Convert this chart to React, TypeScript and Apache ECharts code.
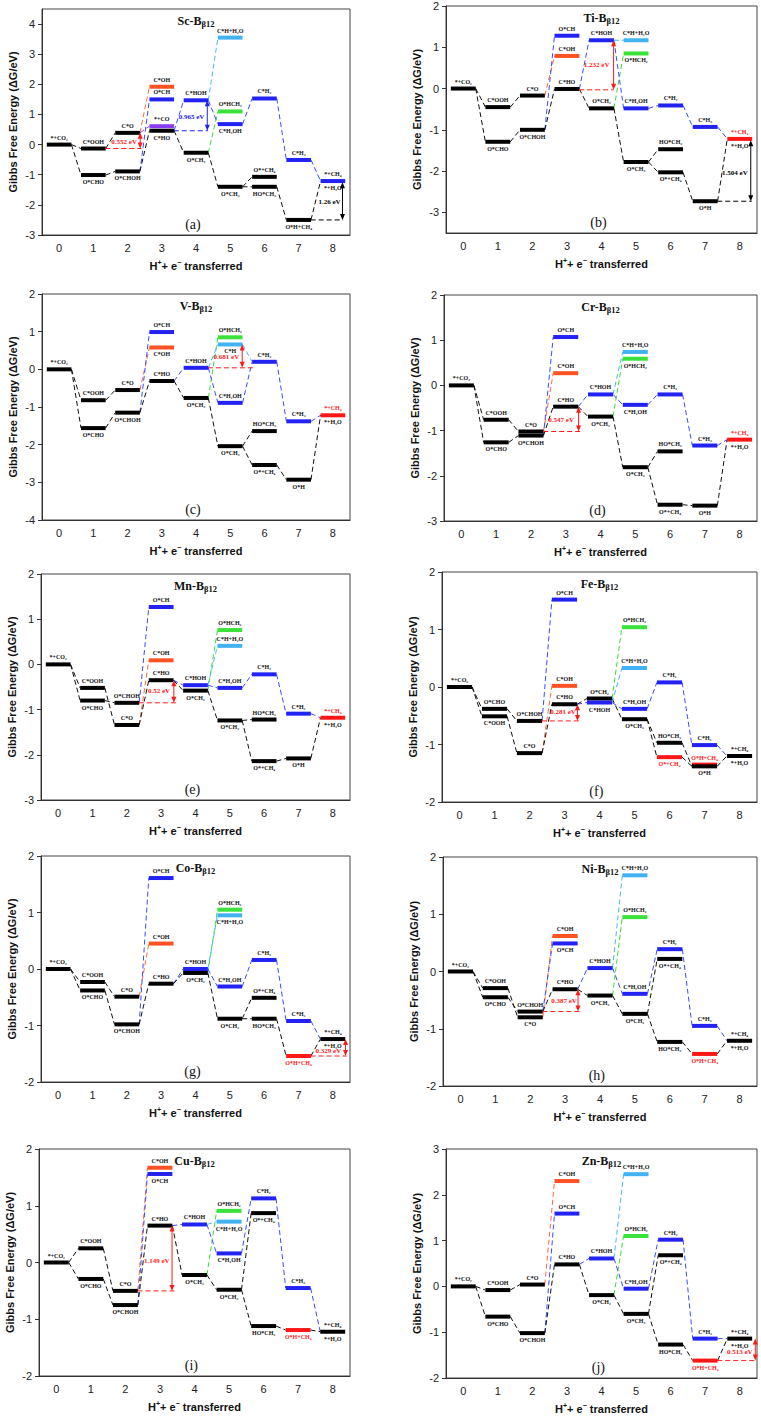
import React, { useEffect, useRef } from "react";
import * as echarts from "echarts";

type Level = [number, number, string, string, string, string?];
type Link = [string, string, string];
type Note = { c: string; ref: number[]; arrow: number[]; text: string; at: number[] };

const STEPS = ["0", "1", "2", "3", "4", "5", "6", "7", "8"];

// ---------- Sc ----------
const SC_Y = [-3, 4.5];
const SC_LEVELS: Level[] = [
  [0, 0, "k", "*+CO₂", "t"],
  [1, -0.13, "k", "C*OOH", "t"],
  [1, -1.01, "k", "O*CHO", "b"],
  [2, 0.39, "k", "C*O", "t"],
  [2, -0.89, "k", "O*CHOH", "b"],
  [3, 1.92, "o", "C*OH", "t"],
  [3, 1.5, "b", "O*CH", "t"],
  [3, 0.61, "p", "*+CO", "t"],
  [3, 0.46, "k", "C*HO", "b"],
  [4, 1.47, "b", "C*HOH", "t"],
  [4, -0.27, "k", "O*CH₂", "b"],
  [5, 3.55, "c", "C*H+H₂O", "t"],
  [5, 1.1, "g", "O*HCH₂", "t"],
  [5, 0.68, "b", "C*H₂OH", "b"],
  [5, -1.4, "k", "O*CH₃", "b"],
  [6, 1.53, "b", "C*H₂", "t"],
  [6, -1.07, "k", "O*+CH₄", "t"],
  [6, -1.4, "k", "HO*CH₃", "b"],
  [7, -0.51, "b", "C*H₃", "t"],
  [7, -2.5, "k", "O*H+CH₄", "b"],
  [8, -1.21, "b", "*+CH₄", "t", "*+H₂O"],
];
const SC_NOTES: Note[] = [
  { c: "r", ref: [1.35, 2.4, -0.13], arrow: [2.37, 0.39, -0.13], text: "0.552 eV", at: [1.9, 0.1] },
  { c: "b", ref: [3.35, 4.35, 0.46], arrow: [4.33, 1.47, 0.46], text: "0.965 eV", at: [3.87, 0.92] },
  { c: "k", ref: [7.35, 8.3, -2.5], arrow: [8.28, -1.25, -2.5], text: "1.26 eV", at: [7.9, -1.92] },
];

// ---------- Ti ----------
const TI_Y = [-3.5, 2];
const TI_LEVELS: Level[] = [
  [0, 0, "k", "*+CO₂", "t"],
  [1, -0.45, "k", "C*OOH", "t"],
  [1, -1.29, "k", "O*CHO", "b"],
  [2, -0.17, "k", "C*O", "t"],
  [2, -1.0, "k", "O*CHOH", "b"],
  [3, 1.28, "b", "O*CH", "t"],
  [3, 0.79, "o", "C*OH", "t"],
  [3, -0.01, "k", "C*HO", "t"],
  [4, 1.17, "b", "C*HOH", "t"],
  [4, -0.48, "k", "O*CH₂", "t"],
  [5, 1.17, "c", "C*H+H₂O", "t"],
  [5, 0.85, "g", "O*HCH₂", "b"],
  [5, -0.48, "b", "C*H₂OH", "t"],
  [5, -1.78, "k", "O*CH₃", "b"],
  [6, -0.41, "b", "C*H₂", "t"],
  [6, -1.47, "k", "HO*CH₃", "t"],
  [6, -2.03, "k", "O*+CH₄", "b"],
  [7, -0.93, "b", "C*H₃", "t"],
  [7, -2.73, "k", "O*H", "b"],
  [8, -1.22, "r", "*+CH₄", "t", "*+H₂O"],
];
const TI_NOTES: Note[] = [
  { c: "r", ref: [3.35, 4.35, -0.03], arrow: [4.35, 1.17, -0.03], text: "1.232 eV", at: [3.86, 0.57] },
  { c: "k", ref: [7.35, 8.35, -2.73], arrow: [8.32, -1.25, -2.73], text: "1.504 eV", at: [7.86, -2.04] },
];

// ---------- V ----------
const V_Y = [-4, 2];
const V_LEVELS: Level[] = [
  [0, 0, "k", "*+CO₂", "t"],
  [1, -0.82, "k", "C*OOH", "t"],
  [1, -1.56, "k", "O*CHO", "b"],
  [2, -0.55, "k", "C*O", "t"],
  [2, -1.15, "k", "O*CHOH", "b"],
  [3, 0.99, "b", "O*CH", "t"],
  [3, 0.58, "o", "C*OH", "b"],
  [3, -0.31, "k", "C*HO", "t"],
  [4, 0.04, "b", "C*HOH", "t"],
  [4, -0.76, "k", "O*CH₂", "b"],
  [5, 0.85, "g", "O*HCH₂", "t"],
  [5, 0.66, "c", "C*H", "b"],
  [5, -0.89, "b", "C*H₂OH", "t"],
  [5, -2.04, "k", "O*CH₃", "b"],
  [6, 0.2, "b", "C*H₂", "t"],
  [6, -1.64, "k", "HO*CH₃", "t"],
  [6, -2.54, "k", "O*+CH₄", "b"],
  [7, -1.38, "b", "C*H₃", "t"],
  [7, -2.93, "k", "O*H", "b"],
  [8, -1.22, "r", "*+CH₄", "t", "*+H₂O"],
];
const V_NOTES: Note[] = [
  { c: "r", ref: [4.35, 5.7, 0.04], arrow: [5.35, 0.66, 0.04], text: "0.681 eV", at: [4.89, 0.33] },
];

// ---------- Cr ----------
const CR_Y = [-3, 2];
const CR_LEVELS: Level[] = [
  [0, 0, "k", "*+CO₂", "t"],
  [1, -0.76, "k", "C*OOH", "t"],
  [1, -1.26, "k", "O*CHO", "b"],
  [2, -1.02, "k", "C*O", "t"],
  [2, -1.11, "k", "O*CHOH", "b"],
  [3, 1.07, "b", "O*CH", "t"],
  [3, 0.27, "o", "C*OH", "t"],
  [3, -0.47, "k", "C*HO", "t"],
  [4, -0.2, "b", "C*HOH", "t"],
  [4, -0.69, "k", "O*CH₂", "b"],
  [5, 0.74, "c", "C*H+H₂O", "t"],
  [5, 0.59, "g", "O*HCH₂", "b"],
  [5, -0.43, "b", "C*H₂OH", "b"],
  [5, -1.81, "k", "O*CH₃", "b"],
  [6, -0.2, "b", "C*H₂", "t"],
  [6, -1.46, "k", "HO*CH₃", "t"],
  [6, -2.64, "k", "O*+CH₄", "b"],
  [7, -1.33, "b", "C*H₃", "t"],
  [7, -2.66, "k", "O*H", "b"],
  [8, -1.2, "r", "*+CH₄", "t", "*+H₂O"],
];
const CR_NOTES: Note[] = [
  { c: "r", ref: [2.35, 3.45, -1.02], arrow: [3.37, -0.47, -1.02], text: "0.547 eV", at: [2.87, -0.76] },
];

// ---------- Mn ----------
const MN_Y = [-3, 2];
const MN_LEVELS: Level[] = [
  [0, 0, "k", "*+CO₂", "t"],
  [1, -0.52, "k", "C*OOH", "t"],
  [1, -0.8, "k", "O*CHO", "b"],
  [2, -0.85, "k", "O*CHOH", "t"],
  [2, -1.34, "k", "C*O", "t"],
  [3, 1.27, "b", "O*CH", "t"],
  [3, 0.09, "o", "C*OH", "t"],
  [3, -0.35, "k", "C*HO", "t"],
  [4, -0.46, "b", "C*HOH", "t"],
  [4, -0.58, "k", "O*CH₂", "b"],
  [5, 0.76, "g", "O*HCH₂", "t"],
  [5, 0.41, "c", "C*H+H₂O", "t"],
  [5, -0.52, "b", "C*H₂OH", "t"],
  [5, -1.24, "k", "O*CH₃", "b"],
  [6, -0.22, "b", "C*H₂", "t"],
  [6, -1.22, "k", "HO*CH₃", "t"],
  [6, -2.14, "k", "O*+CH₄", "b"],
  [7, -1.09, "b", "C*H₃", "t"],
  [7, -2.08, "k", "O*H", "b"],
  [8, -1.18, "r", "*+CH₄", "t", "*+H₂O"],
];
const MN_NOTES: Note[] = [
  { c: "r", ref: [2.35, 3.45, -0.85], arrow: [3.37, -0.35, -0.85], text: "0.52 eV", at: [2.94, -0.59] },
];

// ---------- Fe ----------
const FE_Y = [-2, 2];
const FE_LEVELS: Level[] = [
  [0, 0, "k", "*+CO₂", "t"],
  [1, -0.38, "k", "O*CHO", "t"],
  [1, -0.51, "k", "C*OOH", "b"],
  [2, -0.59, "k", "O*CHOH", "t"],
  [2, -1.15, "k", "C*O", "t"],
  [3, 1.52, "b", "O*CH", "t"],
  [3, 0.02, "o", "C*OH", "t"],
  [3, -0.3, "k", "C*HO", "t"],
  [4, -0.2, "k", "O*CH₂", "t"],
  [4, -0.27, "b", "C*HOH", "b"],
  [5, 1.04, "g", "O*HCH₂", "t"],
  [5, 0.33, "c", "C*H+H₂O", "t"],
  [5, -0.38, "b", "C*H₂OH", "t"],
  [5, -0.56, "k", "O*CH₃", "b"],
  [6, 0.08, "b", "C*H₂", "t"],
  [6, -0.97, "k", "HO*CH₃", "t"],
  [6, -1.22, "r", "O*+CH₄", "b"],
  [7, -1.01, "b", "C*H₃", "t"],
  [7, -1.35, "r", "O*H+CH₄", "t"],
  [7, -1.38, "k", "O*H", "b"],
  [8, -1.2, "k", "*+CH₄", "t", "*+H₂O"],
];
const FE_NOTES: Note[] = [
  { c: "r", ref: [2.35, 3.45, -0.59], arrow: [3.37, -0.3, -0.59], text: "0.281 eV", at: [2.96, -0.43] },
];

// ---------- Co ----------
const CO_Y = [-2, 2];
const CO_LEVELS: Level[] = [
  [0, 0, "k", "*+CO₂", "t"],
  [1, -0.23, "k", "C*OOH", "t"],
  [1, -0.38, "k", "O*CHO", "b"],
  [2, -0.49, "k", "C*O", "t"],
  [2, -0.98, "k", "O*CHOH", "b"],
  [3, 1.61, "b", "O*CH", "t"],
  [3, 0.45, "o", "C*OH", "t"],
  [3, -0.26, "k", "C*HO", "t"],
  [4, 0.0, "b", "C*HOH", "t"],
  [4, -0.07, "k", "O*CH₂", "b"],
  [5, 1.05, "g", "O*HCH₂", "t"],
  [5, 0.95, "c", "C*H+H₂O", "b"],
  [5, -0.31, "b", "C*H₂OH", "t"],
  [5, -0.88, "k", "O*CH₃", "b"],
  [6, 0.16, "b", "C*H₂", "t"],
  [6, -0.51, "k", "O*+CH₄", "t"],
  [6, -0.88, "k", "HO*CH₃", "b"],
  [7, -0.92, "b", "C*H₃", "t"],
  [7, -1.54, "r", "O*H+CH₄", "b"],
  [8, -1.24, "k", "*+CH₄", "t", "*+H₂O"],
];
const CO_NOTES: Note[] = [
  { c: "r", ref: [7.35, 8.4, -1.54], arrow: [8.37, -1.24, -1.54], text: "0.329 eV", at: [7.87, -1.45] },
];

// ---------- Ni ----------
const NI_Y = [-2, 2];
const NI_LEVELS: Level[] = [
  [0, 0, "k", "*+CO₂", "t"],
  [1, -0.29, "k", "C*OOH", "t"],
  [1, -0.45, "k", "O*CHO", "b"],
  [2, -0.7, "k", "O*CHOH", "t"],
  [2, -0.8, "k", "C*O", "b"],
  [3, 0.62, "o", "C*OH", "t"],
  [3, 0.49, "b", "O*CH", "b"],
  [3, -0.31, "k", "C*HO", "t"],
  [4, 0.06, "b", "C*HOH", "t"],
  [4, -0.42, "k", "O*CH₂", "b"],
  [5, 1.68, "c", "C*H+H₂O", "t"],
  [5, 0.95, "g", "O*HCH₂", "t"],
  [5, -0.39, "b", "C*H₂OH", "t"],
  [5, -0.74, "k", "O*CH₃", "b"],
  [6, 0.39, "b", "C*H₂", "t"],
  [6, 0.22, "k", "O*+CH₄", "b"],
  [6, -1.23, "k", "HO*CH₃", "b"],
  [7, -0.95, "b", "C*H₃", "t"],
  [7, -1.44, "r", "O*H+CH₄", "b"],
  [8, -1.21, "k", "*+CH₄", "t", "*+H₂O"],
];
const NI_NOTES: Note[] = [
  { c: "r", ref: [2.35, 3.45, -0.7], arrow: [3.37, -0.31, -0.7], text: "0.387 eV", at: [2.97, -0.52] },
];

// ---------- Cu ----------
const CU_Y = [-2, 2];
const CU_LEVELS: Level[] = [
  [0, 0, "k", "*+CO₂", "t"],
  [1, 0.25, "k", "C*OOH", "t"],
  [1, -0.29, "k", "O*CHO", "b"],
  [2, -0.5, "k", "C*O", "t"],
  [2, -0.75, "k", "O*CHOH", "b"],
  [3, 1.67, "o", "C*OH", "t"],
  [3, 1.56, "b", "O*CH", "b"],
  [3, 0.65, "k", "C*HO", "t"],
  [4, 0.67, "b", "C*HOH", "t"],
  [4, -0.22, "k", "O*CH₂", "b"],
  [5, 0.91, "g", "O*HCH₂", "t"],
  [5, 0.72, "c", "C*H+H₂O", "b"],
  [5, 0.16, "b", "C*H₂OH", "b"],
  [5, -0.48, "k", "O*CH₃", "b"],
  [6, 1.13, "b", "C*H₂", "t"],
  [6, 0.87, "k", "O*+CH₄", "b"],
  [6, -1.12, "k", "HO*CH₃", "b"],
  [7, -0.45, "b", "C*H₃", "t"],
  [7, -1.19, "r", "O*H+CH₄", "b"],
  [8, -1.22, "k", "*+CH₄", "t", "*+H₂O"],
];
const CU_NOTES: Note[] = [
  { c: "r", ref: [2.35, 3.5, -0.5], arrow: [3.35, 0.65, -0.5], text: "1.149 eV", at: [2.91, 0.03] },
];

// ---------- Zn ----------
const ZN_Y = [-2, 3];
const ZN_LEVELS: Level[] = [
  [0, 0, "k", "*+CO₂", "t"],
  [1, -0.08, "k", "C*OOH", "t"],
  [1, -0.66, "k", "O*CHO", "b"],
  [2, 0.04, "k", "C*O", "t"],
  [2, -1.02, "k", "O*CHOH", "b"],
  [3, 2.3, "o", "C*OH", "t"],
  [3, 1.59, "b", "O*CH", "t"],
  [3, 0.48, "k", "C*HO", "t"],
  [4, 0.61, "b", "C*HOH", "t"],
  [4, -0.19, "k", "O*CH₂", "b"],
  [5, 2.45, "c", "C*H+H₂O", "t"],
  [5, 1.1, "g", "O*HCH₂", "t"],
  [5, -0.05, "b", "C*H₂OH", "t"],
  [5, -0.6, "k", "O*CH₃", "b"],
  [6, 1.02, "b", "C*H₂", "t"],
  [6, 0.68, "k", "O*+CH₄", "b"],
  [6, -1.27, "k", "HO*CH₃", "b"],
  [7, -1.14, "b", "C*H₃", "t"],
  [7, -1.62, "r", "O*H+CH₄", "b"],
  [8, -1.14, "k", "*+CH₄", "t", "*+H₂O"],
];
const ZN_NOTES: Note[] = [
  { c: "r", ref: [7.35, 8.5, -1.62], arrow: [8.45, -1.14, -1.62], text: "0.513 eV", at: [8.0, -1.43] },
];

// ---------- pathway connections ----------
const ENTRY_LINKS: Link[] = [
  ["*+CO₂", "C*OOH", "k"], ["*+CO₂", "O*CHO", "k"],
  ["C*OOH", "C*O", "k"], ["O*CHO", "O*CHOH", "k"],
  ["C*O", "C*OH", "o"], ["O*CHOH", "O*CH", "b"],
];
const MIDDLE_LINKS: Link[] = [
  ["C*HO", "C*HOH", "b"], ["C*HO", "O*CH₂", "k"],
  ["O*CH₂", "O*HCH₂", "g"], ["C*HOH", "C*H₂OH", "b"], ["O*CH₂", "O*CH₃", "k"],
  ["C*H₂OH", "C*H₂", "b"], ["O*CH₃", "O*+CH₄", "k"], ["O*CH₃", "HO*CH₃", "k"],
  ["C*H₂", "C*H₃", "b"], ["C*H₃", "*+CH₄", "b"],
];
const CYAN_LINK: Link[] = [["C*HOH", "C*H+H₂O", "c"]];
const TAIL_OH: Link[] = [["O*+CH₄", "O*H", "k"], ["O*H", "*+CH₄", "k"]];
const TAIL_OHCH4: Link[] = [["HO*CH₃", "O*H+CH₄", "k"], ["O*H+CH₄", "*+CH₄", "k"]];

const SC_LINKS: Link[] = [...ENTRY_LINKS, ["C*O", "*+CO", "p"], ["O*CHOH", "C*HO", "k"], ...MIDDLE_LINKS, ...CYAN_LINK, ...TAIL_OHCH4];
const TI_LINKS: Link[] = [...ENTRY_LINKS, ["O*CHOH", "C*HO", "k"], ...MIDDLE_LINKS, ...CYAN_LINK, ...TAIL_OH];
const V_LINKS: Link[] = [...ENTRY_LINKS, ["O*CHOH", "C*HO", "k"], ...MIDDLE_LINKS, ["C*HOH", "C*H", "c"], ["C*H", "C*H₂", "c"], ...TAIL_OH];
const CR_LINKS: Link[] = [...ENTRY_LINKS, ["O*CHOH", "C*HO", "k"], ...MIDDLE_LINKS, ...CYAN_LINK, ...TAIL_OH];
const MN_LINKS: Link[] = [...ENTRY_LINKS, ["C*O", "C*HO", "k"], ...MIDDLE_LINKS, ...CYAN_LINK, ...TAIL_OH];
const FE_LINKS: Link[] = [...ENTRY_LINKS, ["C*O", "C*HO", "k"], ...MIDDLE_LINKS, ...CYAN_LINK,
  ["HO*CH₃", "O*H", "k"], ["O*+CH₄", "O*H", "k"], ["O*H", "*+CH₄", "k"]];
const CO_LINKS: Link[] = [...ENTRY_LINKS, ["O*CHOH", "C*HO", "k"], ...MIDDLE_LINKS, ...CYAN_LINK, ...TAIL_OHCH4];
const NI_LINKS: Link[] = [...ENTRY_LINKS, ["O*CHOH", "C*HO", "k"], ...MIDDLE_LINKS, ...CYAN_LINK, ...TAIL_OHCH4];
const CU_LINKS: Link[] = [...ENTRY_LINKS, ["O*CHOH", "C*HO", "k"], ...MIDDLE_LINKS, ...CYAN_LINK, ...TAIL_OHCH4];
const ZN_LINKS: Link[] = [...ENTRY_LINKS, ["O*CHOH", "C*HO", "k"], ...MIDDLE_LINKS, ...CYAN_LINK, ...TAIL_OHCH4];

// ---------- styling ----------
const BAR: Record<string, string> = {
  k: "#000000", b: "#2222f2", o: "#ff5224", r: "#ff1717", g: "#3be23b", c: "#42b2f2", p: "#8b3cf0",
};
const DASH: Record<string, string> = {
  k: "#111111", b: "#3a4cff", o: "#ff6a3c", r: "#ff3a3a", g: "#38e038", c: "#48b8f4", p: "#8b3cf0",
};
const NOTE: Record<string, string> = { r: "#ff1a1a", b: "#2222f2", k: "#000000" };
const SERIF = '"Liberation Serif","Times New Roman",serif';
const SANS = '"Liberation Sans",Arial,Helvetica,sans-serif';
const HALF = 0.36;

const PANELS = [
  { metal: "Sc", tag: "(a)", levels: SC_LEVELS, links: SC_LINKS, notes: SC_NOTES, y: SC_Y, box: [42, 9, 308, 226] },
  { metal: "Ti", tag: "(b)", levels: TI_LEVELS, links: TI_LINKS, notes: TI_NOTES, y: TI_Y, box: [446, 6, 311, 227] },
  { metal: "V", tag: "(c)", levels: V_LEVELS, links: V_LINKS, notes: V_NOTES, y: V_Y, box: [42, 294, 308, 226] },
  { metal: "Cr", tag: "(d)", levels: CR_LEVELS, links: CR_LINKS, notes: CR_NOTES, y: CR_Y, box: [444, 295, 313, 226] },
  { metal: "Mn", tag: "(e)", levels: MN_LEVELS, links: MN_LINKS, notes: MN_NOTES, y: MN_Y, box: [41, 574, 309, 226] },
  { metal: "Fe", tag: "(f)", levels: FE_LEVELS, links: FE_LINKS, notes: FE_NOTES, y: FE_Y, box: [442, 572, 315, 230] },
  { metal: "Co", tag: "(g)", levels: CO_LEVELS, links: CO_LINKS, notes: CO_NOTES, y: CO_Y, box: [41, 856, 309, 226] },
  { metal: "Ni", tag: "(h)", levels: NI_LEVELS, links: NI_LINKS, notes: NI_NOTES, y: NI_Y, box: [443, 857, 314, 229] },
  { metal: "Cu", tag: "(i)", levels: CU_LEVELS, links: CU_LINKS, notes: CU_NOTES, y: CU_Y, box: [39, 1149, 311, 227] },
  { metal: "Zn", tag: "(j)", levels: ZN_LEVELS, links: ZN_LINKS, notes: ZN_NOTES, y: ZN_Y, box: [446, 1149, 311, 229] },
];

function txt(text: string, x: number, y: number, fill: string, size: number, align = "center") {
  return {
    type: "text",
    style: {
      text, x, y, fill, fontSize: size, fontWeight: "bold", fontFamily: SERIF,
      align, verticalAlign: "middle", textAlign: align, textVerticalAlign: "middle",
    },
  };
}

function buildOption() {
  const grid: any[] = [];
  const xAxis: any[] = [];
  const yAxis: any[] = [];
  const series: any[] = [];
  const graphic: any[] = [];

  PANELS.forEach((p, i) => {
    const [left, top, width, height] = p.box;
    grid.push({ left, top, width, height, show: true, borderColor: "#444", borderWidth: 1, backgroundColor: "transparent" });
    xAxis.push({
      type: "category", gridIndex: i, data: STEPS, boundaryGap: true, position: "bottom",
      axisLine: { onZero: false, lineStyle: { color: "#333", width: 1 } },
      axisTick: { alignWithLabel: true, length: 4, lineStyle: { color: "#333" } },
      axisLabel: { fontSize: 11, color: "#222", fontFamily: SANS, margin: 7 },
      splitLine: { show: false },
      name: "{m|H}{s|+}{m|+ e}{s|−}{m| transferred}",
      nameLocation: "middle", nameGap: 24,
      nameTextStyle: {
        rich: {
          m: { fontSize: 11, fontWeight: "bold", fontFamily: SANS, color: "#111", lineHeight: 14 },
          s: { fontSize: 7, fontWeight: "bold", fontFamily: SANS, color: "#111", verticalAlign: "top" },
        },
      },
    });
    const minInt = Number.isInteger(p.y[0]);
    const maxInt = Number.isInteger(p.y[1]);
    yAxis.push({
      type: "value", gridIndex: i, min: p.y[0], max: p.y[1],
      ...(minInt ? { interval: 1 } : {}),
      axisLine: { show: true, onZero: false, lineStyle: { color: "#333", width: 1 } },
      axisTick: { show: true, length: 4, lineStyle: { color: "#333" } },
      axisLabel: { fontSize: 11, color: "#222", fontFamily: SANS, margin: 7, showMinLabel: minInt, showMaxLabel: maxInt },
      splitLine: { show: false },
      name: "Gibbs Free Energy (ΔG/eV)",
      nameLocation: "middle", nameGap: 24,
      nameTextStyle: { fontSize: 11, fontWeight: "bold", fontFamily: SANS, color: "#111" },
    });

    const levels = p.levels;
    const find = (lab: string) => levels.find((l) => l[3] === lab);
    const links = p.links
      .map((lk) => ({ a: find(lk[0]), b: find(lk[1]), c: lk[2] }))
      .filter((lk) => lk.a && lk.b) as { a: Level; b: Level; c: string }[];

    // dashed connectors
    series.push({
      type: "custom", xAxisIndex: i, yAxisIndex: i, silent: true, z: 2,
      encode: { x: [0, 2], y: [1, 3] },
      data: links.map((lk) => [lk.a[0], lk.a[1], lk.b[0], lk.b[1]]),
      renderItem: (params: any, api: any) => {
        const lk = links[params.dataIndex];
        const bw = api.size([1, 0])[0];
        const p1 = api.coord([api.value(0), api.value(1)]);
        const p2 = api.coord([api.value(2), api.value(3)]);
        return {
          type: "line",
          shape: { x1: p1[0] + HALF * bw, y1: p1[1], x2: p2[0] - HALF * bw, y2: p2[1] },
          style: { stroke: DASH[lk.c], lineWidth: 1, lineDash: [5, 3] },
        };
      },
    });

    // energy levels
    series.push({
      type: "custom", xAxisIndex: i, yAxisIndex: i, silent: true, z: 3,
      encode: { x: 0, y: 1 },
      data: levels.map((l) => [l[0], l[1]]),
      renderItem: (params: any, api: any) => {
        const L = levels[params.dataIndex];
        const bw = api.size([1, 0])[0];
        const c = api.coord([api.value(0), api.value(1)]);
        const children: any[] = [
          {
            type: "line",
            shape: { x1: c[0] - HALF * bw, y1: c[1], x2: c[0] + HALF * bw, y2: c[1] },
            style: { stroke: BAR[L[2]], lineWidth: 4 },
          },
          txt(L[3], c[0], L[4] === "t" ? c[1] - 7 : c[1] + 7, L[2] === "r" ? "#ff1a1a" : "#111", 6),
        ];
        if (L[5]) children.push(txt(L[5], c[0], c[1] + 7, "#111", 6));
        return { type: "group", children };
      },
    });

    // energy-gap annotations
    const notes = p.notes;
    series.push({
      type: "custom", xAxisIndex: i, yAxisIndex: i, silent: true, z: 4,
      encode: { x: 0, y: 1 },
      data: notes.map((n) => [Math.round(n.arrow[0]), n.arrow[1]]),
      renderItem: (params: any, api: any) => {
        const n = notes[params.dataIndex];
        const bw = api.size([1, 0])[0];
        const x0 = api.coord([0, 0])[0];
        const X = (s: number) => x0 + s * bw;
        const Y = (v: number) => api.coord([0, v])[1];
        const col = NOTE[n.c];
        const ax = X(n.arrow[0]);
        const yt = Y(n.arrow[1]);
        const yb = Y(n.arrow[2]);
        return {
          type: "group",
          children: [
            {
              type: "line",
              shape: { x1: X(n.ref[0]), y1: Y(n.ref[2]), x2: X(n.ref[1]), y2: Y(n.ref[2]) },
              style: { stroke: col, lineWidth: 1, lineDash: [5, 3] },
            },
            { type: "line", shape: { x1: ax, y1: yt + 4, x2: ax, y2: yb - 4 }, style: { stroke: col, lineWidth: 1 } },
            { type: "polygon", shape: { points: [[ax, yt], [ax - 2.5, yt + 6], [ax + 2.5, yt + 6]] }, style: { fill: col } },
            { type: "polygon", shape: { points: [[ax, yb], [ax - 2.5, yb - 6], [ax + 2.5, yb - 6]] }, style: { fill: col } },
            txt(n.text, X(n.at[0]), Y(n.at[1]), col, 7),
          ],
        };
      },
    });

    graphic.push({
      type: "text", x: left + width * 0.5, y: top + 12, silent: true,
      style: {
        text: `{a|${p.metal}-B}{b|β12}`,
        align: "center", verticalAlign: "middle", textAlign: "center", textVerticalAlign: "middle",
        rich: {
          a: { fontSize: 12, fontWeight: "bold", fontFamily: SERIF, fill: "#111", color: "#111", lineHeight: 15 },
          b: { fontSize: 8.5, fontWeight: "bold", fontFamily: SERIF, fill: "#111", color: "#111", verticalAlign: "bottom" },
        },
      },
    });
    graphic.push({
      type: "text", x: left + width * 0.49, y: top + height - 11, silent: true,
      style: {
        text: p.tag, fontSize: 14, fontFamily: SERIF, fill: "#111",
        align: "center", verticalAlign: "middle", textAlign: "center", textVerticalAlign: "middle",
      },
    });
  });

  return { animation: false, backgroundColor: "#ffffff", grid, xAxis, yAxis, series, graphic };
}

export default function App() {
  const ref = useRef<HTMLDivElement>(null);
  useEffect(() => {
    if (!ref.current) return;
    const chart = echarts.init(ref.current, null, { renderer: "svg" });
    chart.setOption(buildOption() as any);
    return () => chart.dispose();
  }, []);
  return (
    <div
      ref={ref}
      style={{ position: "absolute", left: 0, top: 0, width: 761, height: 1417, background: "#fff" }}
    />
  );
}
